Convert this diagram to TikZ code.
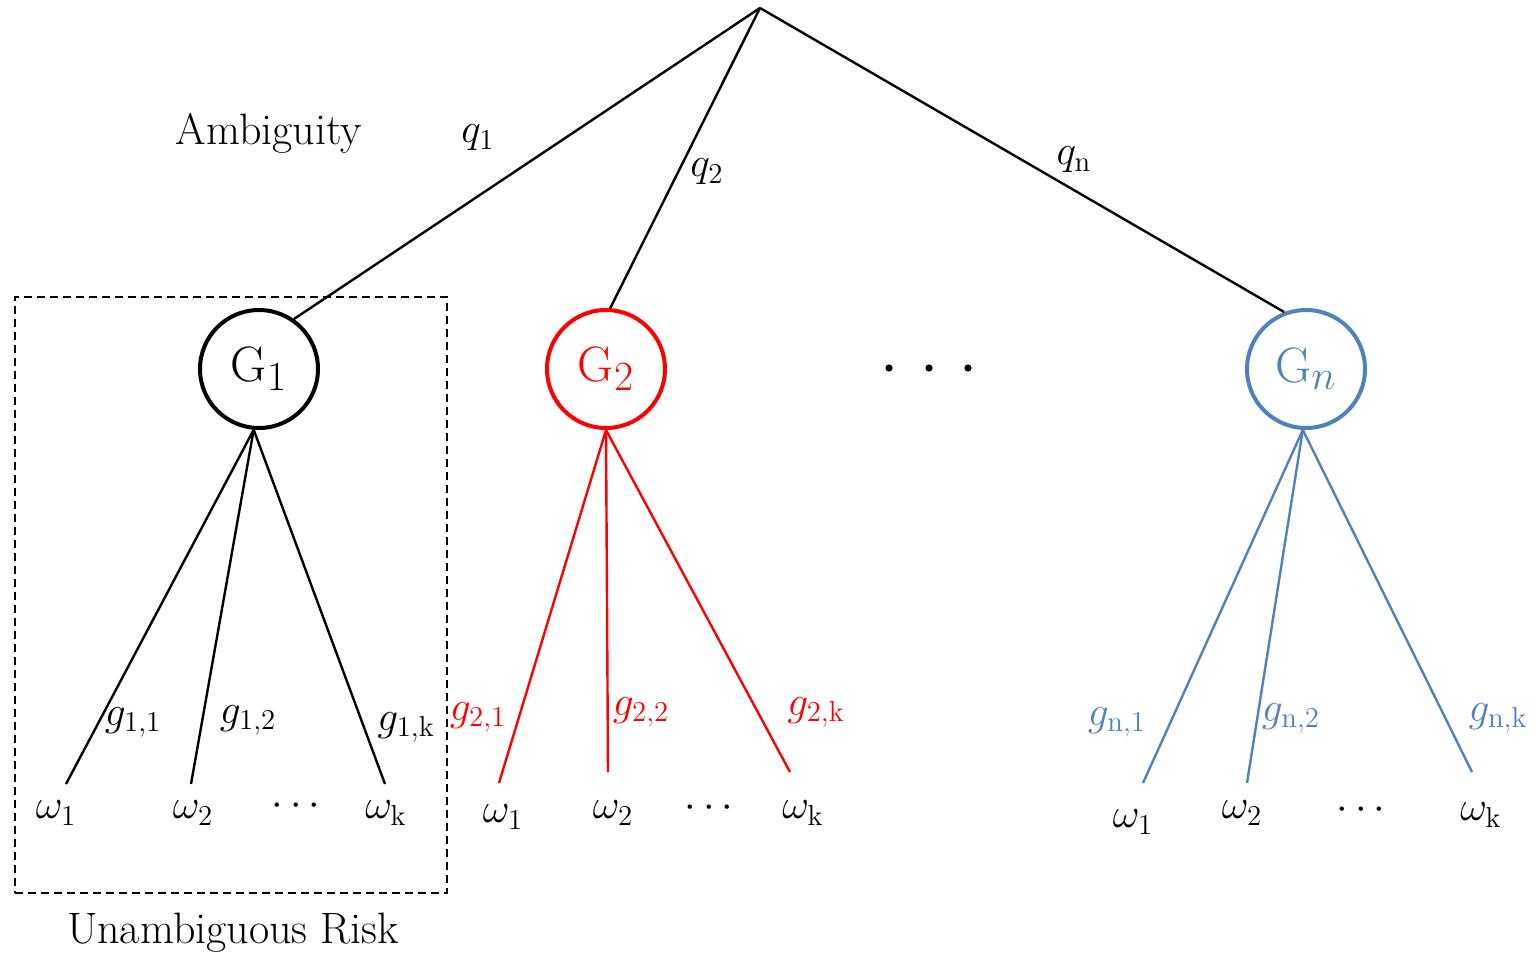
\documentclass[tikz,border=0pt]{standalone}
\definecolor{gred}{RGB}{255,0,0}
\definecolor{gblue}{RGB}{79,129,189}
\tikzset{
  treeline/.style={line width=1.2pt},
  gcircle/.style={circle,draw,line width=2pt,minimum size=59pt,inner sep=0pt,font=\fontsize{24.88}{28}\selectfont},
  mlabel/.style={inner sep=0pt,font=\fontsize{20.74}{25}\selectfont},
  tlabel/.style={inner sep=0pt,font=\fontsize{22}{26}\selectfont},
  riskbox/.style={draw,dashed,line width=1pt,dash pattern=on 4pt off 2.5pt},
}
\begin{document}
\begin{tikzpicture}[x=0.5pt,y=-0.5pt]
\useasboundingbox (0,0) rectangle (1536,957);
% root
\coordinate (root) at (760,8);
% group nodes
\node[gcircle] (G1) at (259,369) {$\mathrm{G}_1$};
\node[gcircle,draw=gred,text=gred] (G2) at (606,369) {$\mathrm{G}_2$};
\node[gcircle,draw=gblue,text=gblue] (Gn) at (1306,369) {$\mathrm{G}_{n}$};
% top branches
\draw[treeline] (root) -- (G1.55);
\draw[treeline] (root) -- (G2.86);
\draw[treeline] (root) -- (Gn.111);
\node[mlabel] (q1) at (478,138) {$q_1$};
\node[mlabel] (q2) at (707,172) {$q_2$};
\node[mlabel] (qn) at (1074,160) {$q_{\mathrm{n}}$};
\node[tlabel] (amb) at (269,133) {Ambiguity};
% dots between groups
\fill (889,368) circle (1.8pt);
\fill (929,368) circle (1.8pt);
\fill (968,368) circle (1.8pt);
% leaf end points
\coordinate (e11) at (66,784);
\coordinate (e12) at (191,784);
\coordinate (e1k) at (385,784);
\coordinate (e21) at (499,783);
\coordinate (e22) at (608,772);
\coordinate (e2k) at (790,772);
\coordinate (en1) at (1143,783);
\coordinate (en2) at (1247,783);
\coordinate (enk) at (1472,772);
% group 1 branches
\draw[treeline] (G1.265) -- (e11);
\draw[treeline] (G1.265) -- (e12);
\draw[treeline] (G1.265) -- (e1k);
\node[mlabel] (g11) at (133,722) {$g_{\mathrm{1,1}}$};
\node[mlabel] (g12) at (248,720) {$g_{\mathrm{1,2}}$};
\node[mlabel] (g1k) at (406,727) {$g_{\mathrm{1,k}}$};
% group 2 branches
\draw[treeline,gred] (G2.270) -- (e21);
\draw[treeline,gred] (G2.270) -- (e22);
\draw[treeline,gred] (G2.270) -- (e2k);
\node[mlabel,text=gred] (g21) at (478,717) {$g_{\mathrm{2,1}}$};
\node[mlabel,text=gred] (g22) at (641,712) {$g_{\mathrm{2,2}}$};
\node[mlabel,text=gred] (g2k) at (816,712) {$g_{\mathrm{2,k}}$};
% group n branches
\draw[treeline,gblue] (Gn.267) -- (en1);
\draw[treeline,gblue] (Gn.267) -- (en2);
\draw[treeline,gblue] (Gn.267) -- (enk);
\node[mlabel,text=gblue] (gn1) at (1117,722) {$g_{\mathrm{n,1}}$};
\node[mlabel,text=gblue] (gn2) at (1291,718) {$g_{\mathrm{n,2}}$};
\node[mlabel,text=gblue] (gnk) at (1498,718) {$g_{\mathrm{n,k}}$};
% leaves
\node[mlabel] (w11) at (56,813) {$\omega_1$};
\node[mlabel] (w12) at (193,813) {$\omega_2$};
\node[mlabel] (d1) at (296,806) {$\cdots$};
\node[mlabel] (w1k) at (386,813) {$\omega_{\mathrm{k}}$};
\node[mlabel] (w21) at (503,817) {$\omega_1$};
\node[mlabel] (w22) at (613,813) {$\omega_2$};
\node[mlabel] (d2) at (709,808) {$\cdots$};
\node[mlabel] (w2k) at (803,813) {$\omega_{\mathrm{k}}$};
\node[mlabel] (wn1) at (1133,822) {$\omega_1$};
\node[mlabel] (wn2) at (1242,813) {$\omega_2$};
\node[mlabel] (dn) at (1361,810) {$\cdots$};
\node[mlabel] (wnk) at (1481,815) {$\omega_{\mathrm{k}}$};
% dashed box
\node[riskbox,inner sep=0pt,minimum width=216pt,minimum height=298pt] (box) at (231,595) {};
\node[tlabel] (risk) at (233,933) {Unambiguous Risk};
\end{tikzpicture}
\end{document}
